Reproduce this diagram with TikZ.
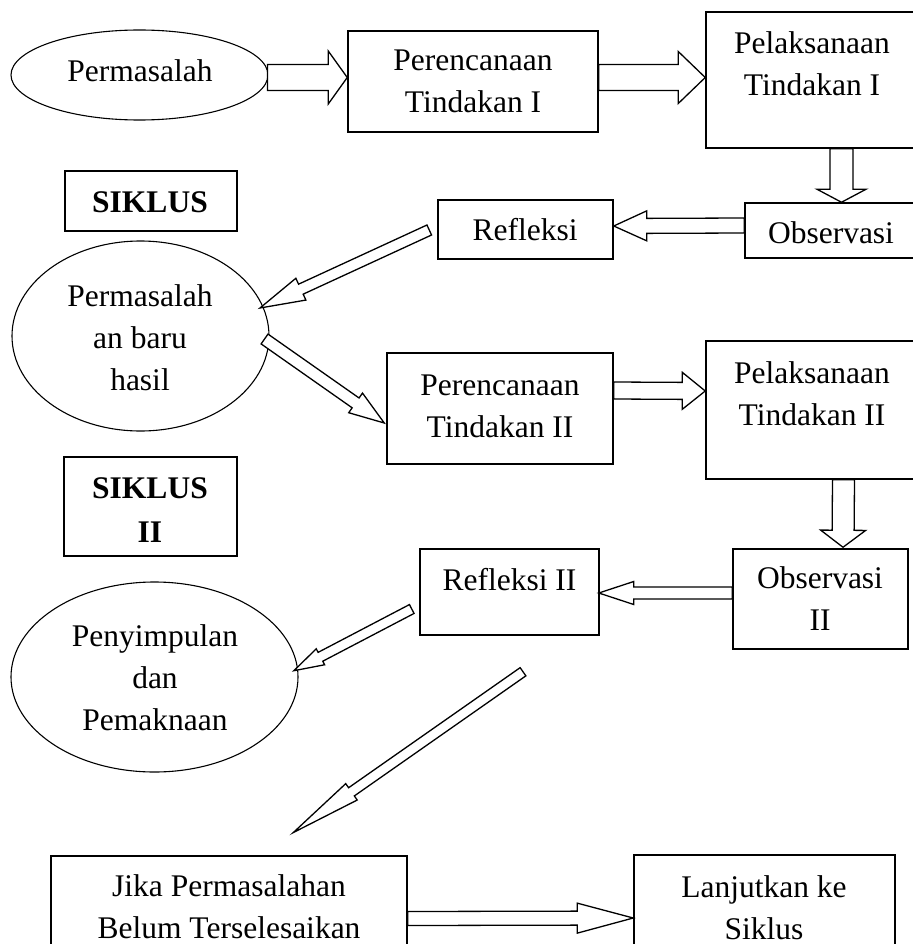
\documentclass[tikz,border=0pt]{standalone}
\usepackage{fontspec}
\setmainfont{Liberation Serif}
\usetikzlibrary{calc,shapes.geometric}
\newcommand{\blockarr}[4]{%
 \coordinate (#1h) at ($(#1e)!#4pt!(#1s)$);
 \draw[blk] ($(#1s)!#2pt!90:(#1e)$) -- ($(#1h)!#2pt!90:(#1e)$) -- ($(#1h)!#3pt!90:(#1e)$) -- (#1e)
   -- ($(#1h)!#3pt!-90:(#1e)$) -- ($(#1h)!#2pt!-90:(#1e)$) -- ($(#1s)!#2pt!-90:(#1e)$) -- cycle;}
\begin{document}
\begin{tikzpicture}[x=1pt,y=-1pt,
  box/.style={draw, rectangle, line width=1.5pt, inner sep=0pt},
  oval/.style={draw, ellipse, line width=1.1pt, inner sep=0pt},
  txt/.style={font=\fontsize{31.5}{42}\selectfont, align=center, inner sep=0pt, anchor=base},
  btxt/.style={txt, font=\fontsize{31.5}{44}\selectfont\bfseries},
  blk/.style={draw, line width=1.3pt, fill=white, line join=miter}]
\useasboundingbox (0,0) rectangle (912,944);
% shapes
\node[oval, minimum width=257pt, minimum height=90pt] (e1) at (139.5,75) {};
\node[box, minimum width=250pt, minimum height=101pt] (per1) at (473,81.5) {};
\node[box, minimum width=212pt, minimum height=136pt] (pel1) at (812,80) {};
\node[box, minimum width=172pt, minimum height=55pt] (obs1) at (831,230.5) {};
\node[box, minimum width=175pt, minimum height=59pt] (ref1) at (525.5,229.5) {};
\node[box, minimum width=172pt, minimum height=60pt] (sik1) at (151,201) {};
\node[oval, minimum width=257pt, minimum height=190pt] (e2) at (140.5,336) {};
\node[box, minimum width=226pt, minimum height=111pt] (per2) at (500,408.5) {};
\node[box, minimum width=212pt, minimum height=138pt] (pel2) at (812,410) {};
\node[box, minimum width=175pt, minimum height=100pt] (obs2) at (820.5,599) {};
\node[box, minimum width=179pt, minimum height=86pt] (ref2) at (509.5,592) {};
\node[box, minimum width=173pt, minimum height=99pt] (sik2) at (150.5,506.5) {};
\node[oval, minimum width=287pt, minimum height=190pt] (e3) at (154.5,677) {};
\node[box, minimum width=356pt, minimum height=110pt] (jika) at (229,911) {};
\node[box, minimum width=261pt, minimum height=110pt] (lanj) at (764.5,910) {};
% texts (anchor = baseline of last line)
\node[txt] (te1) at (140,82) {Permasalah};
\node[txt] (tper1) at (473,113) {Perencanaan\\Tindakan I};
\node[txt] (tpel1) at (812,96) {Pelaksanaan\\Tindakan I};
\node[txt] (tobs1) at (831,243) {Observasi};
\node[txt] (tref1) at (525,240) {Refleksi};
\node[btxt] (tsik1) at (150,212) {SIKLUS};
\node[txt] (te2) at (140,390) {Permasalah\\an baru\\hasil};
\node[txt] (tper2) at (500,437) {Perencanaan\\Tindakan II};
\node[txt] (tpel2) at (812,425) {Pelaksanaan\\Tindakan II};
\node[txt] (tobs2) at (820,630) {Observasi\\II};
\node[txt] (tref2) at (509.5,590) {Refleksi II};
\node[btxt] (tsik2) at (150,542) {SIKLUS\\II};
\node[txt] (te3) at (155,730) {Penyimpulan\\dan\\Pemaknaan};
\node[txt] (tjika) at (229,938) {Jika Permasalahan\\Belum Terselesaikan};
\node[txt] (tlanj) at (764,939) {Lanjutkan ke\\Siklus};
% arrow end points
\coordinate (a1s) at ($(e1.east)+(-1,2.5)$);
\coordinate (a1e) at ($(per1.west)+(0,-4)$);
\coordinate (a2s) at ($(per1.east)+(0,-4)$);
\coordinate (a2e) at ($(pel1.west)+(0,-2.5)$);
\coordinate (a3s) at ($(pel1.south)+(29.5,0)$);
\coordinate (a3e) at ($(obs1.north)+(10.5,0)$);
\coordinate (a4s) at ($(obs1.west)+(0,-5)$);
\coordinate (a4e) at ($(ref1.east)+(0,-3.5)$);
\coordinate (a5s) at ($(ref1.west)+(-8,0.5)$);
\coordinate (a5e) at (260,308);
\coordinate (a6s) at ($(e2.east)+(-5,3)$);
\coordinate (a6e) at ($(per2.west)+(-2,14.5)$);
\coordinate (a7s) at ($(per2.east)+(0,-18)$);
\coordinate (a7e) at ($(pel2.west)+(0,-19)$);
\coordinate (a8s) at ($(pel2.south)+(31.5,0)$);
\coordinate (a8e) at ($(obs2.north)+(22.5,-1)$);
\coordinate (a9s) at ($(obs2.west)+(0,-6)$);
\coordinate (a9e) at ($(ref2.east)+(-1,1)$);
\coordinate (a10s) at ($(ref2.west)+(-7.5,17)$);
\coordinate (a10e) at ($(e3.east)+(-4.7,-6.3)$);
\coordinate (a11s) at ($(ref2.south)+(13.5,36)$);
\coordinate (a11e) at ($(jika.north)+(64.3,-22.7)$);
\coordinate (a12s) at ($(jika.east)+(0,7.5)$);
\coordinate (a12e) at ($(lanj.west)+(0,8)$);
% block arrows
\blockarr{a1}{13}{26.5}{19}
\blockarr{a2}{13}{26}{27}
\blockarr{a3}{11.5}{24.5}{13}
\blockarr{a4}{7.5}{15}{33}
\blockarr{a5}{5.5}{12}{45}
\blockarr{a6}{6}{12}{35}
\blockarr{a7}{8.5}{18.5}{23}
\blockarr{a8}{11}{22.5}{17}
\blockarr{a9}{6}{11.5}{35}
\blockarr{a10}{5}{9}{30}
\blockarr{a11}{5}{10}{71}
\blockarr{a12}{7}{15}{56}
\end{tikzpicture}
\end{document}
